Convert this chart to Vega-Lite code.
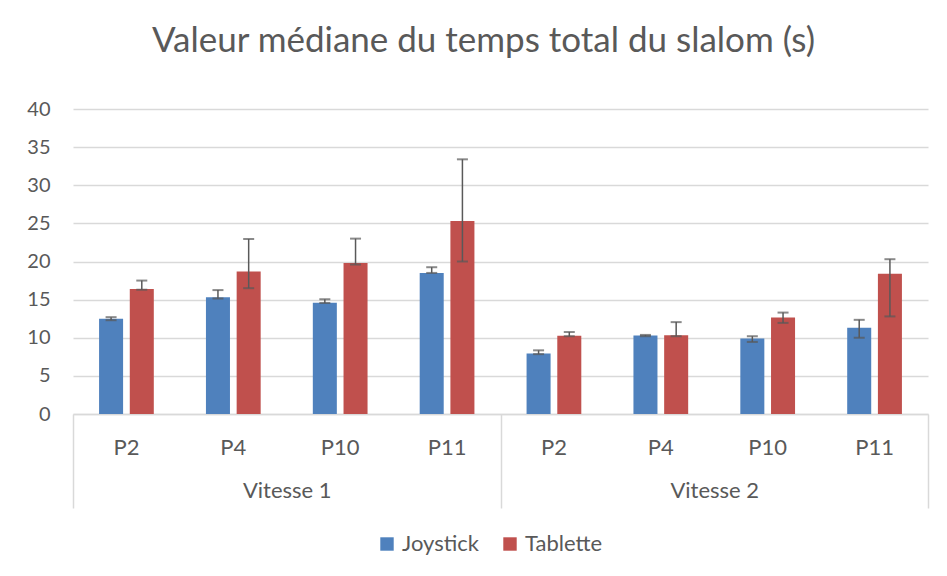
{
  "$schema": "https://vega.github.io/schema/vega-lite/v6.json",
  "autosize": {"type": "none"},
  "padding": {"left": 73, "top": 109, "right": 19, "bottom": 162},
  "width": 855,
  "height": 305,
  "background": "white",
  "config": {
    "font": "Lato",
    "view": {"stroke": null},
    "axis": {"labelFont": "Lato", "labelColor": "#595959", "labelFontSize": 20}
  },
  "title": {
    "text": "Valeur médiane du temps total du slalom (s)",
    "fontSize": 35,
    "font": "Lato",
    "fontWeight": "normal",
    "color": "#595959",
    "anchor": "middle",
    "baseline": "alphabetic",
    "offset": 12,
    "dx": -17
  },
  "layer": [
    {
      "data": {
        "values": [
          {"cat": "V1 P2", "device": "Joystick", "value": 12.5, "lo": 12.3, "hi": 12.7},
          {"cat": "V1 P2", "device": "Tablette", "value": 16.4, "lo": 16.3, "hi": 17.5},
          {"cat": "V1 P4", "device": "Joystick", "value": 15.3, "lo": 15.15, "hi": 16.25},
          {"cat": "V1 P4", "device": "Tablette", "value": 18.7, "lo": 16.5, "hi": 22.95},
          {"cat": "V1 P10", "device": "Joystick", "value": 14.6, "lo": 14.55, "hi": 15.05},
          {"cat": "V1 P10", "device": "Tablette", "value": 19.8, "lo": 19.6, "hi": 23.0},
          {"cat": "V1 P11", "device": "Joystick", "value": 18.5, "lo": 18.5, "hi": 19.25},
          {"cat": "V1 P11", "device": "Tablette", "value": 25.3, "lo": 20.0, "hi": 33.4},
          {"cat": "V2 P2", "device": "Joystick", "value": 7.95, "lo": 7.85, "hi": 8.35},
          {"cat": "V2 P2", "device": "Tablette", "value": 10.25, "lo": 10.2, "hi": 10.75},
          {"cat": "V2 P4", "device": "Joystick", "value": 10.3, "lo": 10.2, "hi": 10.37},
          {"cat": "V2 P4", "device": "Tablette", "value": 10.33, "lo": 10.2, "hi": 12.05},
          {"cat": "V2 P10", "device": "Joystick", "value": 9.9, "lo": 9.45, "hi": 10.2},
          {"cat": "V2 P10", "device": "Tablette", "value": 12.65, "lo": 11.95, "hi": 13.3},
          {"cat": "V2 P11", "device": "Joystick", "value": 11.3, "lo": 10.0, "hi": 12.35},
          {"cat": "V2 P11", "device": "Tablette", "value": 18.4, "lo": 12.8, "hi": 20.3}
        ]
      },
      "encoding": {
        "x": {
          "field": "cat",
          "type": "nominal",
          "scale": {
            "domain": ["V1 P2", "V1 P4", "V1 P10", "V1 P11", "V2 P2", "V2 P4", "V2 P10", "V2 P11"],
            "paddingInner": 0,
            "paddingOuter": 0
          },
          "axis": {
            "orient": "bottom",
            "title": null,
            "labelExpr": "split(datum.label, ' ')[1]",
            "labelAngle": 0,
            "labelFontSize": 22,
            "labelPadding": 23,
            "labelBaseline": "top",
            "ticks": false,
            "domain": true,
            "domainColor": "#d9d9d9",
            "domainWidth": 1.5,
            "grid": false
          }
        },
        "xOffset": {
          "field": "device",
          "type": "nominal",
          "scale": {"domain": ["Joystick", "Tablette"], "paddingInner": 0.218, "paddingOuter": 0.849}
        }
      },
      "layer": [
        {
          "mark": {"type": "bar"},
          "encoding": {
            "y": {
              "field": "value",
              "type": "quantitative",
              "scale": {"domain": [0, 40], "nice": false},
              "axis": {
                "title": null,
                "values": [0, 5, 10, 15, 20, 25, 30, 35, 40],
                "labelOverlap": false,
                "grid": true,
                "gridColor": "#d9d9d9",
                "gridWidth": 1.5,
                "domain": false,
                "ticks": false,
                "labelPadding": 23
              }
            },
            "color": {
              "field": "device",
              "type": "nominal",
              "scale": {"domain": ["Joystick", "Tablette"], "range": ["#4F81BD", "#C0504D"]},
              "legend": {
                "title": null,
                "orient": "none",
                "direction": "horizontal",
                "legendX": 303,
                "legendY": 424,
                "symbolType": "square",
                "symbolSize": 180,
                "symbolStrokeWidth": 0,
                "symbolOpacity": 1,
                "labelFont": "Lato",
                "labelFontSize": 22,
                "labelColor": "#595959",
                "labelOffset": 4,
                "columnPadding": 20
              }
            }
          }
        },
        {
          "mark": {"type": "rule", "color": "#595959", "strokeWidth": 1.5},
          "encoding": {
            "y": {
              "field": "lo",
              "type": "quantitative",
              "axis": {
                "title": null,
                "values": [0, 5, 10, 15, 20, 25, 30, 35, 40],
                "labelOverlap": false,
                "grid": true,
                "gridColor": "#d9d9d9",
                "gridWidth": 1.5,
                "domain": false,
                "ticks": false,
                "labelPadding": 23
              }
            },
            "y2": {"field": "hi"}
          }
        },
        {
          "mark": {"type": "tick", "color": "#595959", "size": 11, "thickness": 2},
          "encoding": {
            "y": {
              "field": "lo",
              "type": "quantitative",
              "axis": {
                "title": null,
                "values": [0, 5, 10, 15, 20, 25, 30, 35, 40],
                "labelOverlap": false,
                "grid": true,
                "gridColor": "#d9d9d9",
                "gridWidth": 1.5,
                "domain": false,
                "ticks": false,
                "labelPadding": 23
              }
            }
          }
        },
        {
          "mark": {"type": "tick", "color": "#595959", "size": 11, "thickness": 2},
          "encoding": {
            "y": {
              "field": "hi",
              "type": "quantitative",
              "axis": {
                "title": null,
                "values": [0, 5, 10, 15, 20, 25, 30, 35, 40],
                "labelOverlap": false,
                "grid": true,
                "gridColor": "#d9d9d9",
                "gridWidth": 1.5,
                "domain": false,
                "ticks": false,
                "labelPadding": 23
              }
            }
          }
        }
      ]
    },
    {
      "data": {"values": [{"vitesse": "Vitesse 1"}, {"vitesse": "Vitesse 2"}]},
      "mark": {"type": "text", "text": "", "opacity": 0},
      "encoding": {
        "x": {
          "field": "vitesse",
          "type": "nominal",
          "scale": {"paddingInner": 0, "paddingOuter": 0},
          "axis": {
            "orient": "bottom",
            "title": null,
            "labelAngle": 0,
            "labelFontSize": 22,
            "domain": false,
            "ticks": true,
            "tickBand": "extent",
            "tickSize": 94,
            "tickColor": "#d9d9d9",
            "tickWidth": 1.5,
            "labelPadding": -28,
            "labelBaseline": "top",
            "grid": false
          }
        }
      }
    }
  ],
  "resolve": {"scale": {"x": "independent"}, "axis": {"x": "independent"}}
}
